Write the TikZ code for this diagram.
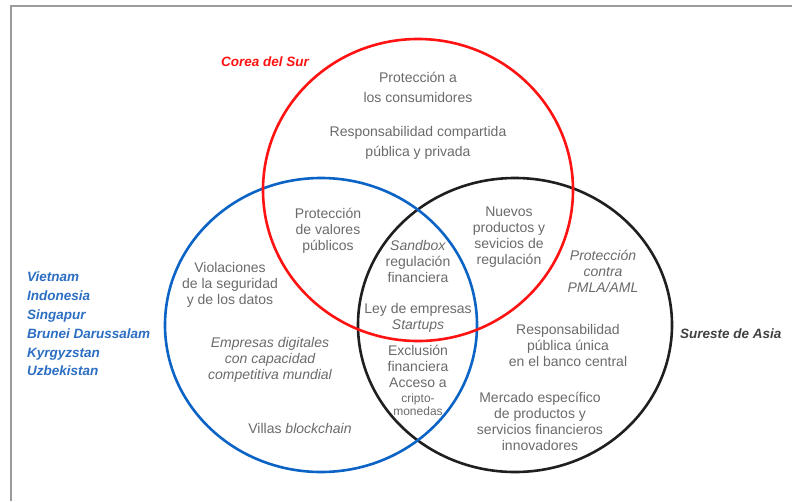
\documentclass[tikz,border=0pt]{standalone}
\usepackage{fontspec}
\setmainfont{Liberation Sans}
\definecolor{vred}{HTML}{FF1212}
\definecolor{vblue}{HTML}{0B63C6}
\definecolor{vblack}{HTML}{1F1F1F}
\definecolor{txtgray}{HTML}{6A6A6A}
\definecolor{listblue}{HTML}{2C6EC2}
\definecolor{framegray}{HTML}{9C9C9C}
\begin{document}
\begin{tikzpicture}[x=1pt,y=-1pt,
        ring/.style={line width=2.6pt},
        txt/.style={text=txtgray,align=center,inner sep=0pt,font=\fontsize{14}{16}\selectfont},
        loose/.style={txt,font=\fontsize{14}{20}\selectfont},
        small/.style={txt,font=\fontsize{12}{13}\selectfont},
        tag/.style={inner sep=0pt,font=\fontsize{13.5}{18.8}\selectfont\bfseries\itshape}]
    \useasboundingbox (0,0) rectangle (792,501);
    \draw[framegray,line width=1.3pt](11,501)--(11,6)--(792,6);
    % the three sets
    \coordinate (asia) at (515,325);
    \coordinate (lista) at (321,325);
    \coordinate (corea) at (418,190);
    \draw[ring,vblack](asia) ellipse [x radius=157pt,y radius=147pt];
    \draw[ring,vblue](lista) ellipse [x radius=156pt,y radius=147pt];
    \draw[ring,vred](corea) ellipse [x radius=155pt,y radius=151pt];
    % set names
    \node[tag,text=vred] (lblcorea) at (265,62) {Corea del Sur};
    \node[tag,text=vblack!85,anchor=west] (lblasia) at (680,334) {Sureste de Asia};
    \node[tag,text=listblue,align=left,anchor=north west] (lbllista) at (27,272)
        {Vietnam\\Indonesia\\Singapur\\Brunei Darussalam\\Kyrgyzstan\\Uzbekistan};
    % Corea del Sur only
    \node[loose] (consum) at (418,87) {Protección a\\los consumidores};
    \node[loose] (compart) at (418,143) {Responsabilidad compartida\\pública y privada};
    % overlaps
    \node[txt] (valores) at (328,231) {Protección\\de valores\\públicos};
    \node[txt] (nuevos) at (509,237) {Nuevos\\productos y\\sevicios de\\regulación};
    \node[txt] (sandbox) at (418,261) {\textit{Sandbox}\\regulación\\financiera};
    \node[txt] (startups) at (418,318) {Ley de empresas\\\textit{Startups}};
    \node[txt] (exclus) at (418,358) {Exclusión\\financiera};
    \node[txt] (acceso) at (418,383) {Acceso a};
    \node[small] (cripto) at (418,405) {cripto-\\monedas};
    % left set only
    \node[txt] (violac) at (230,285) {Violaciones\\de la seguridad\\y de los datos};
    \node[txt,font=\fontsize{14}{16}\selectfont\itshape] (empresas) at (270,360)
        {Empresas digitales\\con capacidad\\competitiva mundial};
    \node[txt] (villas) at (300,428) {Villas \textit{blockchain}};
    % Sureste de Asia only
    \node[txt,font=\fontsize{14}{16}\selectfont\itshape] (pmla) at (603,271) {Protección\\contra\\PMLA/AML};
    \node[txt] (banco) at (568,345) {Responsabilidad\\pública única\\en el banco central};
    \node[txt] (mercado) at (540,421) {Mercado específico\\de productos y\\servicios financieros\\innovadores};
\end{tikzpicture}
\end{document}
